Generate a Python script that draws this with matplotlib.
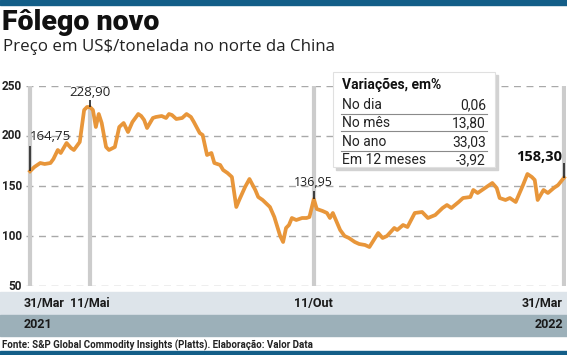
import numpy as np
import matplotlib
matplotlib.use("Agg")
import matplotlib.pyplot as plt
import matplotlib.dates as mdates
from matplotlib.patches import Rectangle

# dados (US$/tonelada)
datas = ["2021-03-31", "2021-04-03", "2021-04-07", "2021-04-10", "2021-04-14", "2021-04-16",
         "2021-04-19", "2021-04-21", "2021-04-25", "2021-04-28", "2021-04-30", "2021-05-04",
         "2021-05-07", "2021-05-09", "2021-05-11", "2021-05-13", "2021-05-15", "2021-05-17",
         "2021-05-19", "2021-05-22", "2021-05-24", "2021-05-28", "2021-05-31", "2021-06-03",
         "2021-06-06", "2021-06-09", "2021-06-13", "2021-06-15", "2021-06-17", "2021-06-19",
         "2021-06-23", "2021-06-25", "2021-06-29", "2021-07-02", "2021-07-04", "2021-07-06",
         "2021-07-09", "2021-07-13", "2021-07-16", "2021-07-19", "2021-07-21", "2021-07-25",
         "2021-07-27", "2021-07-30", "2021-08-02", "2021-08-04", "2021-08-08", "2021-08-10",
         "2021-08-13", "2021-08-16", "2021-08-19", "2021-08-21", "2021-08-25", "2021-08-28",
         "2021-09-01", "2021-09-03", "2021-09-06", "2021-09-11", "2021-09-14", "2021-09-18",
         "2021-09-20", "2021-09-22", "2021-09-24", "2021-09-26", "2021-09-29", "2021-10-03",
         "2021-10-06", "2021-10-08", "2021-10-11", "2021-10-13", "2021-10-17", "2021-10-20",
         "2021-10-22", "2021-10-24", "2021-10-29", "2021-11-01", "2021-11-04", "2021-11-08",
         "2021-11-11", "2021-11-15", "2021-11-18", "2021-11-24", "2021-11-27", "2021-11-30",
         "2021-12-05", "2021-12-07", "2021-12-11", "2021-12-14", "2021-12-19", "2021-12-24",
         "2021-12-28", "2022-01-02", "2022-01-07", "2022-01-10", "2022-01-13", "2022-01-18",
         "2022-01-21", "2022-01-26", "2022-01-28", "2022-01-31", "2022-02-05", "2022-02-10",
         "2022-02-13", "2022-02-15", "2022-02-19", "2022-02-22", "2022-02-26", "2022-03-03",
         "2022-03-06", "2022-03-09", "2022-03-11", "2022-03-13", "2022-03-17", "2022-03-20",
         "2022-03-24", "2022-03-27", "2022-03-31"]
precos = [164.75, 169, 173, 172, 173, 177,
          186, 183, 193, 188, 186, 194,
          226, 229, 228.90, 226, 209, 222,
          213, 189, 186, 189, 209, 213,
          204, 214, 222, 220, 216, 208,
          218, 219, 220, 218, 222, 221,
          217, 218, 222, 219, 214, 203,
          201, 181, 183, 173, 171, 166,
          163, 159, 129, 136, 149, 157,
          146, 139, 136, 129, 119, 100,
          94, 108, 111, 118, 116, 118,
          118, 119, 136.95, 127, 125, 123,
          118, 123, 106, 100, 98, 94,
          92, 91, 89, 103, 98, 100,
          108, 106, 111, 109, 123, 124,
          118, 121, 128, 131, 128, 134,
          138, 139, 146, 143, 148, 153,
          148, 138, 136, 138, 134, 151,
          162, 159, 156, 136, 146, 143,
          148, 151, 158.30]

destaques_datas = ["2021-03-31", "2021-05-11", "2021-10-11", "2022-03-31"]
destaques_valores = [164.75, 228.90, 136.95, 158.30]
destaques_textos = ["164,75", "228,90", "136,95", "158,30"]

eixo_datas = ["31/Mar", "11/Mai", "11/Out", "31/Mar"]
anos = ["2021", "2022"]
yticks = [50, 100, 150, 200, 250]

tab_rotulos = ["No dia", "No mês", "No ano", "Em 12 meses"]
tab_valores = ["0,06", "13,80", "33,03", "-3,92"]

W, H = 567, 355
LARANJA = "#e8963a"
AZUL = "#135e88"
ROBOTO = ["Roboto", "DejaVu Sans"]
OPEN = ["Open Sans", "DejaVu Sans"]


def fx(x):
    return x / W


def fy(y):
    return 1 - y / H


fig = plt.figure(figsize=(W / 100, H / 100), dpi=100)
fig.patch.set_facecolor("white")

# faixas de fundo
fig.patches.append(Rectangle((0, fy(5)), 1, 5 / H, transform=fig.transFigure, color=AZUL))
fig.patches.append(Rectangle((0, fy(315)), 1, 23 / H, transform=fig.transFigure, color="#dde4ea"))
fig.patches.append(Rectangle((0, fy(336)), 1, 21 / H, transform=fig.transFigure, color="#9cb0b9"))
fig.patches.append(Rectangle((0, 0), 1, 4 / H, transform=fig.transFigure, color=AZUL))

fig.text(fx(2), fy(22), "Fôlego novo", fontsize=20.5, fontweight="black",
         family=ROBOTO, va="center", ha="left", color="#111111")
fig.text(fx(3), fy(47), "Preço em US$/tonelada no norte da China", fontsize=12.2,
         family=OPEN, va="center", ha="left", color="#222222")

# eixo principal
d = mdates.date2num(np.array(datas, dtype="datetime64[D]"))
d0 = mdates.date2num(np.datetime64("2021-03-31"))
d1 = mdates.date2num(np.datetime64("2022-03-31"))
pxday = 534 / (d1 - d0)
left_px, right_px = 26, 566
ax = fig.add_axes([fx(left_px), fy(286), (right_px - left_px) / W, 200 / H])
ax.set_xlim(d0 - (30 - left_px) / pxday, d1 + (right_px - 564) / pxday)
ax.set_ylim(50, 250)
for s in ax.spines.values():
    s.set_visible(False)
ax.set_xticks([])
ax.set_yticks([])
ax.patch.set_alpha(0)

for v in yticks:
    ax.axhline(v, color="#a9a9a9", lw=1, ls=(0, (5, 4)), zorder=1)
    fig.text(fx(22), fy(336 - v), str(v), fontsize=8.5, fontweight="bold", family=ROBOTO,
             ha="right", va="center", color="#222222")

dd = mdates.date2num(np.array(destaques_datas, dtype="datetime64[D]"))
topos = [250, destaques_valores[1], 250, 250]
for x, t in zip(dd, topos):
    ax.vlines(x, 48, t, color="#cccccc", lw=3, zorder=2)

ax.plot(d, precos, color=LARANJA, lw=2.7, solid_joinstyle="round", zorder=3, clip_on=False)

# marcadores com valores
ax.vlines(dd[0], destaques_valores[0], 190, color="#222222", lw=1.2, zorder=4)
ax.vlines(dd[1], destaques_valores[1], 236, color="#222222", lw=1.2, zorder=4)
ax.vlines(dd[2], destaques_valores[2], 145, color="#222222", lw=1.2, zorder=4)
ax.vlines(dd[3], destaques_valores[3], 173, color="#222222", lw=1.2, zorder=4)
ax.text(dd[0], 199, destaques_textos[0], fontsize=9.5, family=OPEN,
        ha="left", va="center", color="#222222")
ax.text(dd[1], 243, destaques_textos[1], fontsize=9.5, family=OPEN,
        ha="center", va="center", color="#222222")
ax.text(dd[2], 153, destaques_textos[2], fontsize=9, family=OPEN,
        ha="center", va="center", color="#222222")
ax.text(dd[3] - 2 / pxday, 179, destaques_textos[3], fontsize=10.5, fontweight="bold",
        family=OPEN, ha="right", va="center", color="#111111")

# quadro de variações
bx0, by0, bx1, by1 = 333, 72, 495, 167
fig.patches.append(Rectangle((fx(bx0 + 3), fy(by1 + 3)), (bx1 - bx0) / W, (by1 - by0) / H,
                             transform=fig.transFigure, color="#d2d2d2", zorder=5))
fig.patches.append(Rectangle((fx(bx0), fy(by1)), (bx1 - bx0) / W, (by1 - by0) / H,
                             transform=fig.transFigure, facecolor="white",
                             edgecolor="#e0e0e0", lw=0.8, zorder=6))
fig.text(fx(342), fy(85), "Variações, em%", fontsize=10, fontweight="bold", family=ROBOTO,
         ha="left", va="center", color="#111111", zorder=7)
linhas_y = [105, 123, 142, 160]
for i, (r, v) in enumerate(zip(tab_rotulos, tab_valores)):
    y = linhas_y[i]
    fig.text(fx(342), fy(y), r, fontsize=10, family=ROBOTO, ha="left", va="center",
             color="#222222", zorder=7)
    fig.text(fx(486), fy(y), v, fontsize=10, family=ROBOTO, ha="right", va="center",
             color="#222222", zorder=7)
    if i < 3:
        ly = y + 8.5
        fig.add_artist(plt.Line2D([fx(341), fx(487)], [fy(ly), fy(ly)], color="#8a8a8a",
                                  lw=0.8, zorder=7))

# rótulos do eixo de datas
pos_x = [24, 70, 313, 563]
alin = ["left", "left", "center", "right"]
for t, x, a in zip(eixo_datas, pos_x, alin):
    fig.text(fx(x), fy(303), t, fontsize=9, fontweight="bold", family=ROBOTO,
             ha=a, va="center", color="#1a1a1a")
fig.text(fx(24), fy(325), anos[0], fontsize=9, fontweight="bold", family=ROBOTO,
         ha="left", va="center", color="#1a1a1a")
fig.text(fx(563), fy(325), anos[1], fontsize=9, fontweight="bold", family=ROBOTO,
         ha="right", va="center", color="#1a1a1a")

fig.text(fx(2), fy(345), "Fonte: S&P Global Commodity Insights (Platts). Elaboração: Valor Data",
         fontsize=7, family=ROBOTO, fontweight="bold", ha="left", va="center", color="#222222")

fig.savefig("out.png", dpi=100)
